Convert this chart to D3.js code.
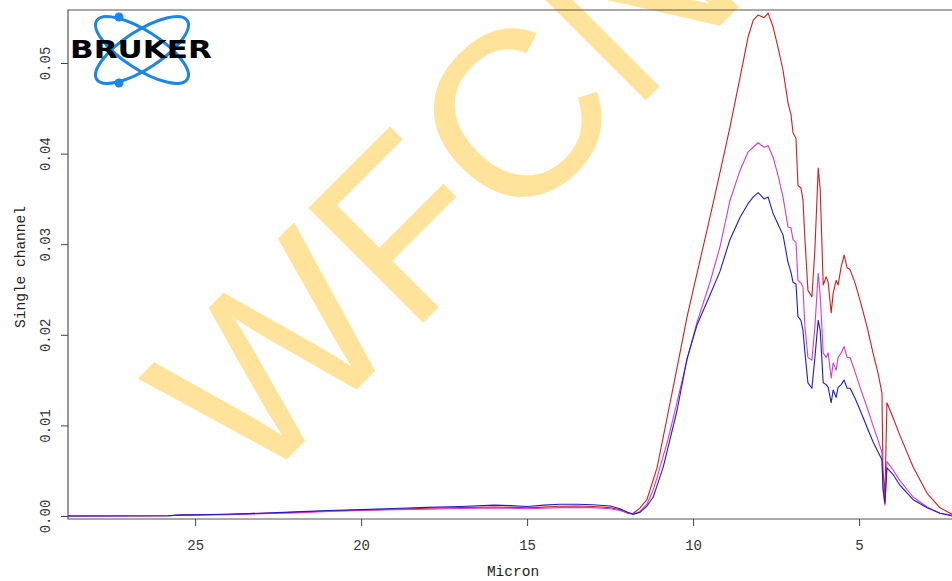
<!DOCTYPE html>
<html><head><meta charset="utf-8">
<script src="https://cdn.jsdelivr.net/npm/d3@7/dist/d3.min.js"></script>
<style>body{margin:0;background:#fff;} svg{display:block;}</style>
</head><body><svg id="c" width="952" height="581"></svg>
<script>
const microns = [28.83, 25.81, 25.51, 24.01, 23.01, 21.99, 20.99, 20.0, 19.01, 18.01,
  16.99, 15.99, 15.51, 15.0, 14.49, 14.01, 13.49, 13.01, 12.5, 12.2,
  11.96, 11.81, 11.6, 11.39, 11.2, 11.08, 10.9, 10.78, 10.48, 10.18,
  9.88, 9.49, 9.19, 8.89, 8.58, 8.34, 8.19, 8.04, 7.86, 7.74,
  7.59, 7.44, 7.29, 7.14, 7.05, 6.99, 6.90, 6.84, 6.75, 6.69,
  6.63, 6.54, 6.42, 6.33, 6.23, 6.17, 6.08, 5.99, 5.93, 5.84,
  5.78, 5.69, 5.63, 5.54, 5.45, 5.36, 5.27, 5.12, 4.97, 4.76,
  4.58, 4.43, 4.31, 4.28, 4.22, 4.16, 3.98, 3.77, 3.37, 2.95,
  2.56, 2.2];
const redValues = [0, 0.00002, 0.0001, 0.0002, 0.0003, 0.0004, 0.00055, 0.00065, 0.00075, 0.00085,
  0.00092, 0.00100, 0.00095, 0.00090, 0.00098, 0.00108, 0.00110, 0.00105, 0.00092, 0.00070,
  0.00030, 0.00025, 0.0009, 0.0018, 0.0040, 0.0054, 0.0087, 0.0109, 0.0164, 0.0220,
  0.0268, 0.0330, 0.0379, 0.0429, 0.0485, 0.0529, 0.0547, 0.0553, 0.0550, 0.0555,
  0.0540, 0.0517, 0.0492, 0.0456, 0.0443, 0.0423, 0.0417, 0.0365, 0.0362, 0.0349,
  0.0305, 0.0249, 0.0242, 0.0294, 0.0384, 0.0360, 0.0255, 0.0264, 0.0258, 0.0224,
  0.0246, 0.0260, 0.0255, 0.0275, 0.0288, 0.0274, 0.0272, 0.0257, 0.0238, 0.0209,
  0.0180, 0.0158, 0.0136, 0.0051, 0.0023, 0.0125, 0.0109, 0.0089, 0.0054, 0.0025,
  0.0009, 0.0002];
const magentaValues = [0, 0.00002, 0.00008, 0.00015, 0.00025, 0.00035, 0.0005, 0.0006, 0.0007, 0.00075,
  0.00082, 0.0009, 0.00085, 0.0008, 0.00085, 0.00092, 0.00095, 0.00092, 0.0008, 0.0006,
  0.0003, 0.0002, 0.0005, 0.0013, 0.0029, 0.0043, 0.0066, 0.0081, 0.0126, 0.0173,
  0.0214, 0.0258, 0.0297, 0.0348, 0.0382, 0.0402, 0.0407, 0.0412, 0.0407, 0.0409,
  0.0396, 0.0376, 0.0352, 0.0319, 0.0318, 0.0305, 0.0302, 0.0260, 0.0257, 0.0253,
  0.0209, 0.0175, 0.0172, 0.0209, 0.0268, 0.0244, 0.0180, 0.0175, 0.0180, 0.0152,
  0.0169, 0.0161, 0.0175, 0.0180, 0.0187, 0.0175, 0.0175, 0.0159, 0.0142, 0.0120,
  0.0100, 0.0084, 0.0070, 0.0029, 0.0012, 0.0060, 0.0051, 0.0039, 0.0021, 0.0010,
  0.0003, 0.0001];
const blueValues = [0, 0.00002, 0.0001, 0.0002, 0.0003, 0.00045, 0.0006, 0.0007, 0.00082, 0.00095,
  0.00105, 0.0012, 0.00115, 0.00105, 0.0012, 0.0013, 0.0013, 0.00125, 0.0011, 0.0008,
  0.0004, 0.0002, 0.0004, 0.0011, 0.0021, 0.0034, 0.0054, 0.0072, 0.0117, 0.0174,
  0.0211, 0.0244, 0.0270, 0.0305, 0.0330, 0.0345, 0.0352, 0.0357, 0.0350, 0.0352,
  0.0334, 0.0322, 0.0310, 0.0280, 0.0269, 0.0258, 0.0256, 0.0220, 0.0216, 0.0205,
  0.0180, 0.0147, 0.0141, 0.0175, 0.0216, 0.0205, 0.0147, 0.0145, 0.0142, 0.0125,
  0.0139, 0.0131, 0.0142, 0.0145, 0.0150, 0.0141, 0.0141, 0.0130, 0.0117, 0.0098,
  0.0082, 0.0071, 0.0062, 0.0032, 0.0014, 0.0053, 0.0046, 0.0034, 0.0018, 0.0009,
  0.0003, 0.0000];
const xTicks = [25, 20, 15, 10, 5];
const yTicks = [0, 0.01, 0.02, 0.03, 0.04, 0.05];
const yTickLabels = ["0.00", "0.01", "0.02", "0.03", "0.04", "0.05"];
const seriesNames = ["red", "magenta", "blue"];
const seriesColors = ["#d41c1c", "#d63ad6", "#1c1cc8"];
const xTitle = "Micron";
const yTitle = "Single channel";
const watermark = "WFCN";
const logoText = "BRUKER";

(function () {
const svg = d3.select("#c");
const W = 952, H = 581;
const pLeft = 68, pTop = 10, pBottom = 519, pRight = 952;
const x = d3.scaleLinear().domain([28.83, 2.2]).range([pLeft, pRight]);
const y = d3.scaleLinear().domain([0, 0.05]).range([516, 63]);
const font = "'Liberation Mono', 'DejaVu Sans Mono', monospace";

svg.append("rect").attr("width", W).attr("height", H).attr("fill", "#fff");

// watermark
svg.append("text")
  .attr("transform", "translate(252,494) rotate(-45)")
  .attr("font-family", "'Liberation Sans', Arial, sans-serif")
  .attr("font-size", 236)
  .attr("fill", "#ffe39b")
  .text(watermark);

// frame
svg.append("path")
  .attr("d", `M${pRight + 10},${pTop}H${pLeft}V${pBottom}H${pRight + 10}`)
  .attr("fill", "none").attr("stroke", "#555").attr("stroke-width", 1.2);

// axes
const xAxis = svg.append("g").attr("transform", `translate(0,${pBottom})`)
  .call(d3.axisBottom(x).tickValues(xTicks).tickSize(7).tickFormat(d3.format("d")));
xAxis.select(".domain").remove();
xAxis.selectAll("line").attr("stroke", "#444");
xAxis.selectAll("text").attr("y", 31).attr("dy", 0)
  .attr("font-family", font).attr("font-size", 14).attr("fill", "#333");

const yAxis = svg.append("g").attr("transform", `translate(${pLeft},0)`)
  .call(d3.axisLeft(y).tickValues(yTicks).tickSize(7).tickFormat((d, i) => yTickLabels[i]));
yAxis.select(".domain").remove();
yAxis.selectAll("line").attr("stroke", "#444");
yAxis.selectAll("text")
  .attr("transform", "rotate(-90)")
  .attr("x", 0).attr("y", -18).attr("dy", 0)
  .attr("text-anchor", "middle")
  .attr("font-family", font).attr("font-size", 14).attr("fill", "#333");

svg.append("text").attr("x", 513).attr("y", 576).attr("text-anchor", "middle")
  .attr("font-family", font).attr("font-size", 14.5).attr("fill", "#222").text(xTitle);
svg.append("text").attr("transform", "translate(25,267) rotate(-90)").attr("text-anchor", "middle")
  .attr("font-family", font).attr("font-size", 14.5).attr("fill", "#222").text(yTitle);

// curves
svg.append("clipPath").attr("id", "clip").append("rect")
  .attr("x", pLeft).attr("y", pTop).attr("width", pRight - pLeft + 10).attr("height", pBottom - pTop);
const line = d3.line().x(d => x(d[0])).y(d => y(d[1]));
const allValues = [redValues, magentaValues, blueValues];
const g = svg.append("g").attr("clip-path", "url(#clip)");
allValues.forEach((vals, i) => {
  g.append("path")
    .datum(microns.map((m, j) => [m, vals[j]]))
    .attr("d", line)
    .attr("fill", "none")
    .attr("stroke", seriesColors[i])
    .attr("stroke-width", 1.1)
    .attr("stroke-linejoin", "round");
});

// logo
const logo = svg.append("g");
const blueLogo = "#1b86e8";
[-33, 33].forEach(a => {
  logo.append("ellipse").attr("cx", 142).attr("cy", 50).attr("rx", 54).attr("ry", 19)
    .attr("transform", `rotate(${a},142,50)`)
    .attr("fill", "none").attr("stroke", blueLogo).attr("stroke-width", 3);
});
logo.append("circle").attr("cx", 119).attr("cy", 17).attr("r", 4.5).attr("fill", blueLogo);
logo.append("circle").attr("cx", 119).attr("cy", 83).attr("r", 4.5).attr("fill", blueLogo);
logo.append("text").attr("x", 70).attr("y", 58)
  .attr("font-family", "'DejaVu Sans', sans-serif").attr("font-weight", "bold")
  .attr("font-size", 24).attr("textLength", 142).attr("lengthAdjust", "spacingAndGlyphs")
  .attr("fill", "#000").text(logoText);
})();
</script>
</body></html>
